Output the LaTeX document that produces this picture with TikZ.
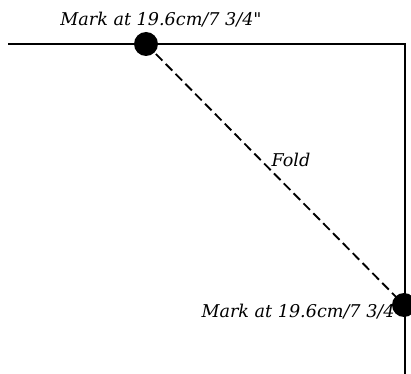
\documentclass[tikz,border=0pt]{standalone}
\usepackage{fontspec}
\setmainfont{DejaVu Serif}
\usepackage{tikz}
\usetikzlibrary{positioning, calc}
\definecolor{edgeblack}{RGB}{0,0,0}
\tikzset{
  edge/.style={line width=1.4pt, color=edgeblack},
  foldline/.style={dash pattern=on 7pt off 3.5pt, line width=1.4pt, color=edgeblack},
  markdot/.style={circle, fill=edgeblack, inner sep=0pt, minimum size=18pt},
  marklabel/.style={font=\fontsize{13.2}{15}\selectfont\itshape, inner sep=0pt},
}

\begin{document}
\begin{tikzpicture}[x=0.75pt, y=-0.75pt]
  \useasboundingbox (0,0) rectangle (411,374);
  % paper edges
  \coordinate (topleft) at (8,44);
  \coordinate (corner) at (405,44);
  \coordinate (bottomright) at (405,374);
  \draw[edge] (topleft) -- (corner) -- (bottomright);
  % labels
  \node[marklabel] (toplabel) at (161,20) {Mark at 19.6cm/7 3/4\textquotedbl};
  \node[marklabel, anchor=east] (sidelabel) at (403,312) {Mark at 19.6cm/7 3/4\textquotedbl};
  % marks and fold
  \node[markdot] (marktop) at (146,44) {};
  \node[markdot] (markside) at (404,305) {};
  \draw[foldline] (marktop.center) -- (markside.center);
  \node[marklabel] (foldlabel) at (291,160) {Fold};
\end{tikzpicture}
\end{document}
